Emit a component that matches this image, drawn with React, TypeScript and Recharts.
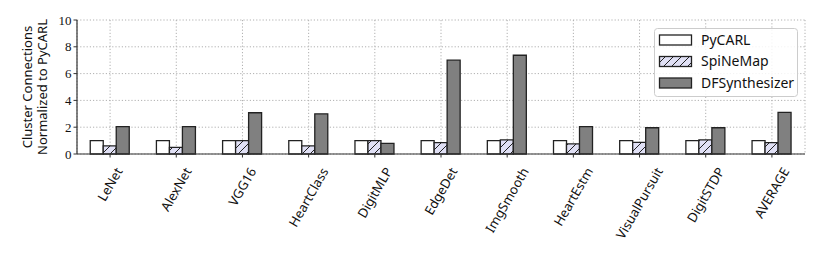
import React from 'react';
import { BarChart, Bar, XAxis, YAxis, CartesianGrid } from 'recharts';

const categories = ['LeNet', 'AlexNet', 'VGG16', 'HeartClass', 'DigitMLP', 'EdgeDet', 'ImgSmooth', 'HeartEstm', 'VisualPursuit', 'DigitSTDP', 'AVERAGE'];
const pycarl = [1, 1, 1, 1, 1, 1, 1, 1, 1, 1, 1];
const spinemap = [0.6, 0.5, 1.0, 0.6, 1.0, 0.85, 1.05, 0.75, 0.87, 1.05, 0.85];
const dfsynth = [2.04, 2.04, 3.08, 3.0, 0.8, 7.0, 7.37, 2.04, 1.96, 1.96, 3.1];
const yTicks = [0, 2, 4, 6, 8, 10];

const data = categories.map((name, i) => ({
  name,
  pycarl: pycarl[i],
  spinemap: spinemap[i],
  dfsynth: dfsynth[i],
}));

const SANS = '"Noto Sans", "DejaVu Sans", sans-serif';
const SERIF = '"Liberation Serif", "DejaVu Serif", serif';
const EDGE = '#222';
const HATCH_FILL = '#e0e0f5';

let ctx: CanvasRenderingContext2D | null = null;
function measure(text: string, font: string) {
  if (!ctx) ctx = document.createElement('canvas').getContext('2d');
  if (!ctx) return text.length * 7;
  ctx.font = font;
  return ctx.measureText(text).width;
}

// matplotlib-style rotated label: bbox centred on the tick
const XTick = (props: any) => {
  const { x, y, payload } = props;
  const fs = 13;
  const w = measure(payload.value, `${fs}px ${SANS}`);
  const ex = x + w / 4;
  const ey = y + 6 + fs / 4;
  return (
    <text
      x={ex}
      y={ey}
      textAnchor="end"
      dy="0.35em"
      fontFamily={SANS}
      fontSize={fs}
      fill="#111"
      transform={`rotate(-60 ${ex} ${ey})`}
    >
      {payload.value}
    </text>
  );
};

const YLabel = () => (
  <g fontFamily={SANS} fontSize={13} fill="#111" textAnchor="middle">
    <text x={27} y={87} dy="0.35em" transform="rotate(-90 27 87)">Cluster Connections</text>
    <text x={42} y={87} dy="0.35em" transform="rotate(-90 42 87)">Normalized to PyCARL</text>
  </g>
);

const legendItems = [
  { label: 'PyCARL', fill: '#fff' },
  { label: 'SpiNeMap', fill: 'url(#hatchL)' },
  { label: 'DFSynthesizer', fill: '#808080' },
];

const LegendBox = () => (
  <svg width={144} height={69} style={{ position: 'absolute', left: 654, top: 28, display: 'block' }}>
    <defs>
      <pattern id="hatchL" patternUnits="userSpaceOnUse" width={8} height={8}>
        <rect width={8} height={8} fill={HATCH_FILL} />
        <path d="M-2,2 l4,-4 M0,8 l8,-8 M6,10 l4,-4" stroke={EDGE} strokeWidth={1} />
      </pattern>
    </defs>
    <rect x={0.5} y={0.5} width={143} height={68} rx={3} fill="#fff" fillOpacity={0.85} stroke="#ccc" />
    {legendItems.map((it, i) => (
      <g key={it.label}>
        <rect x={5.5} y={7 + i * 21.5} width={32} height={10} fill={it.fill} stroke={EDGE} strokeWidth={1.3} />
        <text x={47} y={12 + i * 21.5} dy="0.35em" fontFamily={SANS} fontSize={14} fill="#111">
          {it.label}
        </text>
      </g>
    ))}
  </svg>
);

export default function App() {
  return (
    <div style={{ position: 'absolute', left: 0, top: 0, width: 822, height: 256, background: '#fff' }}>
      <BarChart
        width={822}
        height={256}
        data={data}
        margin={{ top: 20, right: 17, bottom: 0, left: 0 }}
        barCategoryGap="20%"
        barGap={0}
      >
        <defs>
          <pattern id="hatch" patternUnits="userSpaceOnUse" width={8} height={8}>
            <rect width={8} height={8} fill={HATCH_FILL} />
            <path d="M-2,2 l4,-4 M0,8 l8,-8 M6,10 l4,-4" stroke={EDGE} strokeWidth={1} />
          </pattern>
        </defs>
        <CartesianGrid stroke="#b0b0b0" strokeDasharray="1.2 2" />
        <XAxis
          dataKey="name"
          height={102}
          interval={0}
          tick={<XTick />}
          tickSize={3.5}
          axisLine={{ stroke: '#333', strokeWidth: 1.2 }}
          tickLine={{ stroke: '#333' }}
        />
        <XAxis
          xAxisId="top"
          dataKey="name"
          orientation="top"
          height={0}
          tick={false}
          tickLine={false}
          axisLine={{ stroke: '#444', strokeWidth: 1.2 }}
        />
        <YAxis
          width={77}
          domain={[0, 10]}
          ticks={yTicks}
          tickSize={3.5}
          tick={{ fontFamily: SERIF, fontSize: 13, fill: '#111' }}
          axisLine={{ stroke: '#333', strokeWidth: 1.2 }}
          tickLine={{ stroke: '#333' }}
          label={<YLabel />}
        />
        <YAxis
          yAxisId="right"
          orientation="right"
          width={0}
          domain={[0, 10]}
          tick={false}
          tickLine={false}
          axisLine={{ stroke: '#444', strokeWidth: 1.2 }}
        />
        <Bar dataKey="pycarl" name="PyCARL" fill="#fff" stroke={EDGE} strokeWidth={1.3} isAnimationActive={false} />
        <Bar dataKey="spinemap" name="SpiNeMap" fill="url(#hatch)" stroke={EDGE} strokeWidth={1.3} isAnimationActive={false} />
        <Bar dataKey="dfsynth" name="DFSynthesizer" fill="#808080" stroke={EDGE} strokeWidth={1.3} isAnimationActive={false} />
      </BarChart>
      <LegendBox />
    </div>
  );
}
